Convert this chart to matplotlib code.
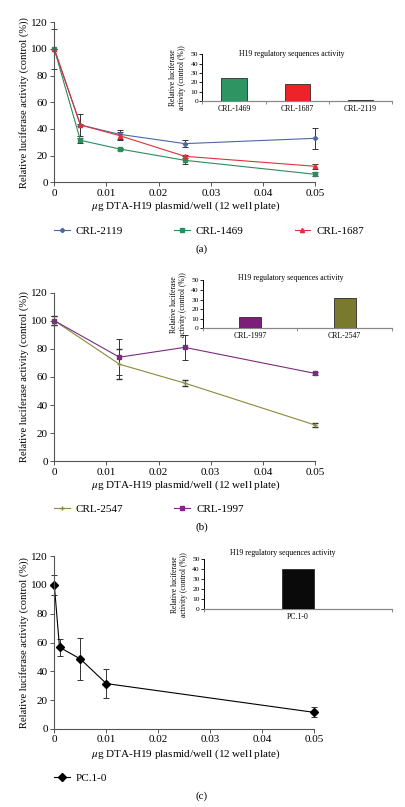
import matplotlib
matplotlib.use("Agg")
import matplotlib.pyplot as plt
from matplotlib.ticker import FuncFormatter

# ---------------- data ----------------
dose_a = [0, 0.005, 0.0125, 0.025, 0.05]
crl2119 = [100, 43, 36, 29, 33]
err2119 = [15, 8, 3.5, 2.5, 8]
crl1469 = [100, 31.5, 25, 16.5, 6]
err1469 = [0, 2, 0.8, 3, 1.5]
crl1687 = [100, 43, 35, 19.5, 12]
err1687 = [0, 1, 3, 1, 2]
inset_a_labels = ["CRL-1469", "CRL-1687", "CRL-2119"]
inset_a_values = [25, 18.5, 1.5]

dose_b = [0, 0.0125, 0.025, 0.05]
crl2547 = [100, 69, 55.6, 25.8]
err2547 = [3, 10.5, 2, 1.5]
crl1997 = [100, 74, 81, 62.5]
err1997 = [3, 13, 9, 0.8]
inset_b_labels = ["CRL-1997", "CRL-2547"]
inset_b_values = [12, 32]

dose_c = [0, 0.001, 0.005, 0.01, 0.05]
pc10 = [100, 56.7, 48.6, 31.5, 11.5]
err_pc10 = [7, 6, 14.3, 10, 3.5]
inset_c_labels = ["PC.1-0"]
inset_c_values = [40]

y_ticks = [0, 20, 40, 60, 80, 100, 120]
x_ticks = [0, 0.01, 0.02, 0.03, 0.04, 0.05]
inset_y_ticks = [0, 10, 20, 30, 40, 50]

# ---------------- style ----------------
W, H = 406, 807
DPI = 100
plt.rcParams["font.family"] = ["Liberation Serif", "DejaVu Serif"]
plt.rcParams["mathtext.fontset"] = "stix"
fig = plt.figure(figsize=(W / DPI, H / DPI), dpi=DPI)

SP = "#555555"
ERRC = "#333333"


def px_axes(x0, x1, y0, y1):
    """pixel box (left, right, top, bottom) -> axes"""
    return fig.add_axes([x0 / W, 1 - y1 / H, (x1 - x0) / W, (y1 - y0) / H])


def style_main(ax):
    for s in ["top", "right"]:
        ax.spines[s].set_visible(False)
    for s in ["left", "bottom"]:
        ax.spines[s].set_color(SP)
        ax.spines[s].set_linewidth(0.8)
    ax.set_xlim(0, 0.05)
    ax.set_ylim(0, 120)
    ax.set_yticks(y_ticks)
    ax.set_xticks(x_ticks)
    ax.xaxis.set_major_formatter(FuncFormatter(lambda v, p: "0" if v == 0 else f"{v:.2f}"))
    ax.tick_params(axis="both", labelsize=8, length=3, width=0.7, color=SP, pad=1.5)


def style_inset(ax, labels, values, colors, width):
    n = len(labels)
    xs = list(range(n))
    ax.bar(xs, values, width=width, color=colors, edgecolor="#2a2a2a", linewidth=0.6, zorder=3)
    ax.set_xlim(-0.5, n - 0.5)
    ax.set_ylim(0, 50)
    ax.set_yticks(inset_y_ticks)
    ax.tick_params(axis="y", labelsize=5.4, length=2, width=0.6, pad=1)
    bounds = [i - 0.5 for i in range(n + 1)]
    ax.set_xticks(bounds)
    ax.set_xticklabels([""] * len(bounds))
    ax.tick_params(axis="x", which="major", length=2.5, width=0.6, color="#777777")
    ax.set_xticks(xs, minor=True)
    ax.set_xticklabels(labels, minor=True)
    ax.tick_params(axis="x", which="minor", length=0, labelsize=5.6, pad=3)
    for s in ["top", "right"]:
        ax.spines[s].set_visible(False)
    ax.spines["left"].set_linewidth(0.7)
    ax.spines["bottom"].set_color("#888888")
    ax.spines["bottom"].set_linewidth(0.9)
    ax.set_ylabel("Relative luciferase\nactivity (control (%))", fontsize=5.5, labelpad=3,
                  linespacing=1.25)
    ax.patch.set_alpha(0)


def panel_text(xlabel_y, tag, tag_y):
    fig.text(186 / W, 1 - xlabel_y / H, r"$\mu$g DTA-H19 plasmid/well (12 well plate)",
             ha="center", va="center", fontsize=8)
    fig.text(202 / W, 1 - tag_y / H, tag, ha="center", va="center", fontsize=8)


def ylabel(y_center):
    fig.text(24 / W, 1 - y_center / H, "Relative luciferase activity (control (%))",
             rotation=90, ha="center", va="center", fontsize=7.6)


def inset_title(x, y):
    fig.text(x / W, 1 - y / H, "H19 regulatory sequences activity",
             ha="center", va="center", fontsize=5.6)


def legend(handles, labels, y):
    fig.legend(handles=handles, labels=labels, loc="center left",
               bbox_to_anchor=(54 / W, 1 - y / H),
               ncol=len(handles), frameon=False, fontsize=8, handlelength=1.4,
               handletextpad=0.55, columnspacing=4.6, borderpad=0, borderaxespad=0)


lw = 0.8
ekw = dict(ecolor=ERRC, elinewidth=0.7, capsize=2, capthick=0.7)

# ================= panel (a) =================
axa = px_axes(54.3, 315.3, 22.3, 182.3)
style_main(axa)
blue, green, red = "#4a67a8", "#2e8b5c", "#e0313a"
l1 = axa.errorbar(dose_a, crl2119, yerr=err2119, color=blue, lw=lw, marker="D", ms=2.2,
                  clip_on=False, **ekw)
l2 = axa.errorbar(dose_a, crl1469, yerr=err1469, color=green, lw=lw, marker="s", ms=2.6,
                  clip_on=False, **ekw)
l3 = axa.errorbar(dose_a, crl1687, yerr=err1687, color=red, lw=lw, marker="^", ms=3,
                  clip_on=False, **ekw)
ylabel(102.3)
panel_text(206, "(a)", 249)
legend([l1[0], l2[0], l3[0]], ["CRL-2119", "CRL-1469", "CRL-1687"], 231)

ina = px_axes(202.3, 392, 54.3, 101)
style_inset(ina, inset_a_labels, inset_a_values, ["#2e9462", "#ee2229", "#2b3a67"], 0.4)
inset_title(292, 54)

# ================= panel (b) =================
axb = px_axes(54.3, 315, 292.5, 461.3)
style_main(axb)
olive, purple = "#8a8a3c", "#7b2c7e"
m1 = axb.errorbar(dose_b, crl2547, yerr=err2547, color=olive, lw=lw, marker="+", ms=3.5, mew=1,
                  clip_on=False, **ekw)
m2 = axb.errorbar(dose_b, crl1997, yerr=err1997, color=purple, lw=lw, marker="s", ms=2.6,
                  clip_on=False, **ekw)
ylabel((292.5 + 461.3) / 2)
panel_text(485, "(b)", 527)
legend([m1[0], m2[0]], ["CRL-2547", "CRL-1997"], 509)

inb = px_axes(203, 392, 280.3, 328.3)
style_inset(inb, inset_b_labels, inset_b_values, ["#7b1f7b", "#7a7a2e"], 0.23)
inset_title(291, 277.7)

# ================= panel (c) =================
axc = px_axes(54.3, 314.5, 556, 729)
style_main(axc)
n1 = axc.errorbar(dose_c, pc10, yerr=err_pc10, color="black", lw=lw, marker="D", ms=4.5,
                  clip_on=False, **ekw)
ylabel((556 + 729) / 2)
panel_text(754, "(c)", 796)
legend([n1[0]], ["PC.1-0"], 778)

inc = px_axes(204, 392, 559.3, 609.3)
style_inset(inc, inset_c_labels, inset_c_values, ["#0a0a0a"], 0.165)
inset_title(283, 553)

fig.savefig("out.png", dpi=DPI)
